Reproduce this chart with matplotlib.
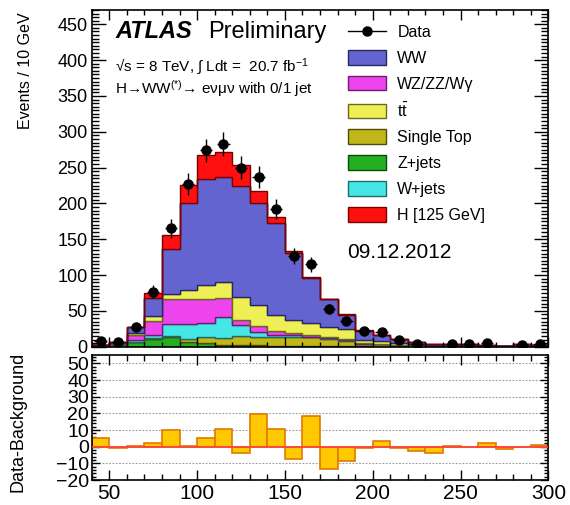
import matplotlib.pyplot as plt
import numpy as np
from matplotlib.patches import Patch
from matplotlib.lines import Line2D
from matplotlib.ticker import MultipleLocator

plt.rcParams['font.family'] = ['Liberation Sans', 'DejaVu Sans']
plt.rcParams['mathtext.fontset'] = 'custom'
plt.rcParams['mathtext.rm'] = 'Liberation Sans'
plt.rcParams['mathtext.it'] = 'Liberation Sans:italic'
plt.rcParams['mathtext.bf'] = 'Liberation Sans:bold'

# DATOS: mll en bins de 10 GeV, de 40 a 300
edges = np.arange(40, 301, 10)
centers = edges[:-1] + 5

z_jets = [1.0, 2.0, 6, 11, 13, 6, 5, 3, 2, 2, 1, 1, 1, 0.5, 0.5, 0.3, 0.2, 0.1, 0.1, 0, 0, 0, 0, 0, 0, 0]
single_top = [0.3, 0.5, 1, 1, 2, 5, 9, 9, 13, 11, 13, 13, 12, 10, 8, 3.5, 3, 2, 1.2, 0.8, 0.8, 0.9, 0.6, 0.3, 0.7, 0.6]
w_jets = [0.5, 1.0, 2, 4, 16, 20, 19, 30, 15, 8, 3, 2, 1, 1, 1, 0.5, 0.3, 0.2, 0.1, 0, 0, 0, 0, 0, 0, 0]
wz_zz_wg = [0.5, 1.5, 8, 20, 35, 35, 34, 26, 7, 8, 5, 3, 2, 1.5, 1.5, 1, 0.8, 0.5, 0.3, 0.2, 0.2, 0.2, 0.2, 0.1, 0.2, 0.2]
ttbar = [0.2, 0.5, 2, 7, 8, 13, 19, 22, 33, 29, 22, 18, 17, 15, 14, 4, 4, 2.5, 1.5, 1, 1, 1, 0.6, 0.3, 0.7, 0.6]
ww = [0.5, 1.5, 8, 25, 63, 121, 148, 147, 155, 142, 128, 94, 63, 38, 19, 13, 7.6, 4.8, 3.2, 1.8, 2, 2.3, 1.4, 0.5, 1.8, 1.4]
higgs = [0, 0, 1, 7, 19, 26, 34, 35, 29, 17, 9, 3, 1, 1, 1, 0.7, 0.5, 0.3, 0, 0, 0, 0, 0, 0, 0, 0]

data = [8, 6, 28, 77, 165, 227, 274, 283, 250, 237, 192, 127, 115, 53, 36, 22, 20, 9, 4, 0, 4, 4, 5, 0, 3, 4]
# panel inferior: Data - Background
diff = [5, -1, 0.5, 2, 10, 0.4, 5.2, 10.4, -3.6, 19.6, 10.8, -7.2, 18.6, -13.6, -8.4, -0.8,
        3.2, -1, -2.4, -3.8, 0.4, -0.4, 2.2, -1.2, -0.4, 1.2]

# orden del apilado (abajo -> arriba)
capas = [
    ('Z+jets', z_jets, '#22b022', '#0c4a0c'),
    ('Single Top', single_top, '#c2b71a', '#504a06'),
    ('W+jets', w_jets, '#44e6e6', '#1f6a6a'),
    ('WZ/ZZ/W\u03b3', wz_zz_wg, '#ee44ee', '#6e1c6e'),
    (r'$\mathrm{t\bar{t}}$', ttbar, '#eeee55', '#6a6a1c'),
    ('WW', ww, '#6464d0', '#26266a'),
    ('H [125 GeV]', higgs, '#ff1010', '#7a0000'),
]

fig = plt.figure(figsize=(5.7, 5.05), dpi=100)
ax = fig.add_axes([0.161, 0.3135, 0.801, 0.6667])
ax2 = fig.add_axes([0.161, 0.0495, 0.801, 0.2475])

# GRAFICA principal
base = np.zeros(len(centers))
for nombre, vals, color, borde in capas:
    top = base + np.array(vals)
    ax.stairs(top, edges, baseline=base, fill=True, color=color, lw=0)
    ax.stairs(top, edges, baseline=base, color=borde, lw=1.0)
    base = top

data = np.array(data, dtype=float)
hay = data > 0
ax.errorbar(centers[hay], data[hay], yerr=np.sqrt(data[hay]), xerr=3.5,
            fmt='o', color='k', ms=6.5, elinewidth=1, capsize=0, zorder=5)

ax.set_xlim(40, 300)
ax.set_ylim(0, 470)
ax.yaxis.set_major_locator(MultipleLocator(50))
ax.yaxis.set_minor_locator(MultipleLocator(5))
ax.xaxis.set_major_locator(MultipleLocator(50))
ax.xaxis.set_minor_locator(MultipleLocator(10))
ax.tick_params(which='both', direction='in', top=True, right=True, labelbottom=False, width=1)
ax.tick_params(axis='y', which='major', length=10, labelsize=13, pad=3)
ax.tick_params(axis='y', which='minor', length=5)
ax.tick_params(axis='x', which='major', length=7)
ax.tick_params(axis='x', which='minor', length=3.5)
for s in ax.spines.values():
    s.set_linewidth(1.2)

# textos
ax.text(0.051, 0.917, 'ATLAS', transform=ax.transAxes, fontsize=17,
        fontweight='bold', fontstyle='italic', va='baseline')
ax.text(0.2547, 0.917, 'Preliminary', transform=ax.transAxes, fontsize=17, va='baseline')
ax.text(0.051, 0.819, '\u221as = 8 TeV, \u222b Ldt =  20.7 fb$^{-1}$', transform=ax.transAxes,
        fontsize=11, va='baseline')
ax.text(0.051, 0.750, 'H\u2192WW$^{(*)}$\u2192 e\u03bd\u03bc\u03bd with 0/1 jet', transform=ax.transAxes,
        fontsize=11, va='baseline')
ax.text(0.559, 0.281, '09.12.2012', transform=ax.transAxes, fontsize=15, va='center')

# leyenda
handles = [Line2D([0], [0], color='k', marker='o', ms=6.5, lw=1)]
labels = ['Data']
orden_leyenda = ['WW', 'WZ/ZZ/W\u03b3', r'$\mathrm{t\bar{t}}$', 'Single Top', 'Z+jets', 'W+jets', 'H [125 GeV]']
dic = {c[0]: c for c in capas}
for nombre in orden_leyenda:
    _, _, color, borde = dic[nombre]
    handles.append(Patch(facecolor=color, edgecolor=borde, lw=1))
    labels.append(nombre)
ax.legend(handles, labels, loc='upper left', bbox_to_anchor=(0.561, 0.958), frameon=False,
          fontsize=11.5, handlelength=2.4, handleheight=1.05, labelspacing=0.62,
          handletextpad=0.7, borderpad=0, borderaxespad=0)

fig.text(0.044, 0.975, 'Events / 10 GeV', rotation=90, ha='center', va='top', fontsize=11.5)

# panel inferior
ax2.bar(centers, diff, width=10, color='#ffc800', edgecolor='#e07800', lw=1.2, zorder=2)
ax2.axhline(0, color='#ff4040', lw=1.2, zorder=3)
for g in range(-10, 51, 10):
    if g != 0:
        ax2.axhline(g, color='#999999', lw=0.8, ls=(0, (1.5, 1.5)), zorder=1)
ax2.set_xlim(40, 300)
ax2.set_ylim(-20, 55)
ax2.yaxis.set_major_locator(MultipleLocator(10))
ax2.yaxis.set_minor_locator(MultipleLocator(2))
ax2.xaxis.set_major_locator(MultipleLocator(50))
ax2.xaxis.set_minor_locator(MultipleLocator(10))
ax2.tick_params(which='both', direction='in', top=True, right=True, width=1)
ax2.tick_params(axis='y', which='major', length=6, labelsize=14, pad=2)
ax2.tick_params(axis='y', which='minor', length=3)
ax2.tick_params(axis='x', which='major', length=7, labelsize=15, pad=3)
ax2.tick_params(axis='x', which='minor', length=4)
for s in ax2.spines.values():
    s.set_linewidth(1.2)

fig.text(0.032, 0.164, 'Data-Background', rotation=90, ha='center', va='center', fontsize=13)

fig.savefig('out.png', dpi=100)
